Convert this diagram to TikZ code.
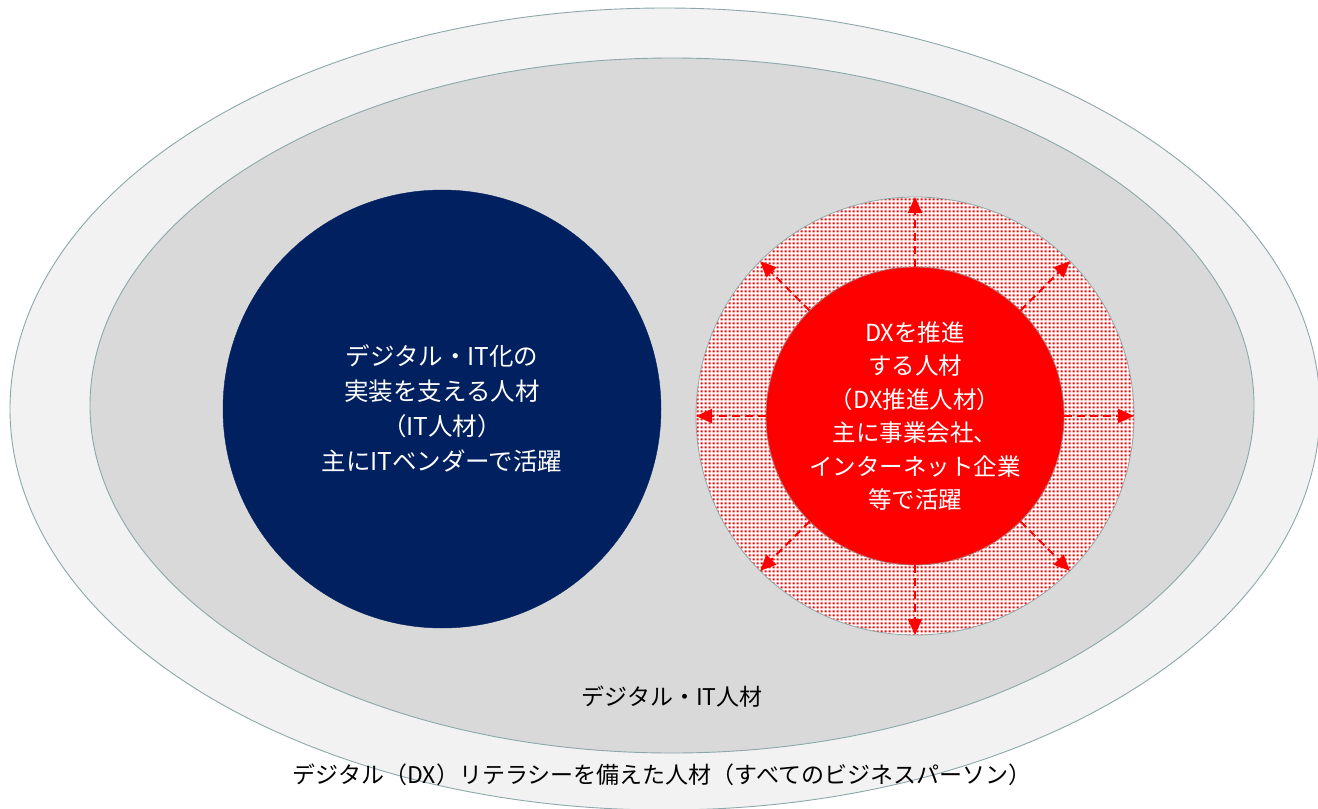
\documentclass[tikz,border=0pt]{standalone}
\usepackage{fontspec}
\setmainfont{Noto Sans CJK JP}
\usetikzlibrary{arrows.meta,patterns}
\definecolor{edgec}{RGB}{140,168,170}
\definecolor{outerfill}{RGB}{242,242,242}
\definecolor{innerfill}{RGB}{217,217,217}
\definecolor{navy}{RGB}{0,32,96}
\definecolor{dxred}{RGB}{255,0,0}
\pgfdeclarepatterninherentlycolored{reddots}{\pgfpointorigin}{\pgfqpoint{4pt}{4pt}}{\pgfqpoint{4pt}{4pt}}{%
  \pgfsetfillcolor{white}%
  \pgfpathrectangle{\pgfpointorigin}{\pgfqpoint{4pt}{4pt}}\pgfusepath{fill}%
  \pgfsetfillcolor{dxred}%
  \pgfpathrectangle{\pgfqpoint{0.7pt}{0.7pt}}{\pgfqpoint{2.6pt}{2.6pt}}\pgfusepath{fill}%
}
\tikzset{
  zone/.style={draw=edgec, line width=0.9pt},
  navycirc/.style={circle, fill=navy, draw=navy, minimum size=438pt, inner sep=0pt, outer sep=0pt,
    text=white, align=center, font=\fontsize{24.5}{35}\selectfont},
  ringcirc/.style={circle, draw=edgec, line width=0.8pt, preaction={fill=white},
    pattern=reddots, minimum size=438pt, inner sep=0pt, outer sep=0pt},
  redcirc/.style={circle, fill=dxred, draw=edgec!70!dxred, line width=0.8pt, minimum size=298pt,
    inner sep=0pt, outer sep=0pt, text=white, align=center, font=\fontsize{23.5}{33.5}\selectfont},
  spread/.style={draw=dxred, line width=2pt, dash pattern=on 8pt off 5pt,
    -{Triangle[length=16pt,width=14pt]}},
  zonelabel/.style={text=black, font=\fontsize{23}{28}\selectfont, inner sep=0pt}
}
\begin{document}
\begin{tikzpicture}[x=1pt,y=-1pt]
\useasboundingbox (0,0) rectangle (1318,809);
\clip (0,0) rectangle (1318,809);
\fill[white] (0,0) rectangle (1318,809);
% zones
\draw[zone, fill=outerfill] (665,409) ellipse [x radius=655pt, y radius=401pt];
\draw[zone, fill=innerfill] (672,405.5) ellipse [x radius=582pt, y radius=347.5pt];
% IT talent
\node[navycirc] (it) at (442,409) {デジタル・IT化の\\実装を支える人材\\（IT人材）\\主にITベンダーで活躍};
% DX ring and core
\node[ringcirc] (ring) at (915,416) {};
\node[redcirc] (dx) at (915,416) {DXを推進\\する人材\\（DX推進人材）\\主に事業会社、\\インターネット企業\\等で活躍};
\foreach \a in {0,45,...,315}{
  \draw[spread] (dx.\a) -- (ring.\a);
}
% labels
\node[zonelabel] (itlabel) at (672,697) {デジタル・IT人材};
\node[zonelabel] (dxlabel) at (662,775) {デジタル（DX）リテラシーを備えた人材（すべてのビジネスパーソン）};
\end{tikzpicture}
\end{document}
